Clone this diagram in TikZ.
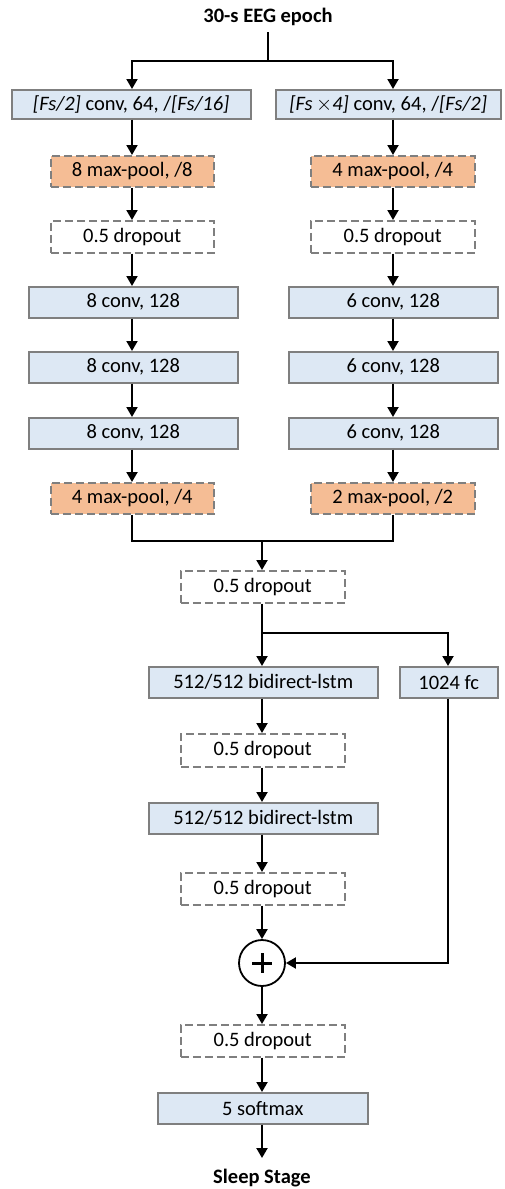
\documentclass[tikz,border=0pt]{standalone}
\usepackage{fontspec}
\setmainfont{Carlito}
\usetikzlibrary{arrows.meta}
\definecolor{layerblue}{HTML}{DDE8F4}
\definecolor{poolorange}{HTML}{F5BD95}
\definecolor{edgegray}{HTML}{7F7F7F}
\tikzset{
  box/.style={draw=edgegray, line width=1.5pt, inner sep=0pt, anchor=north west,
    font=\fontsize{20.5}{24}\selectfont},
  layer/.style={box, fill=layerblue},
  pool/.style={box, fill=poolorange, dashed, dash pattern=on 8pt off 4pt},
  drop/.style={box, fill=white, dashed, dash pattern=on 8pt off 4pt},
  label/.style={font=\fontsize{20.5}{24}\selectfont\bfseries, inner sep=0pt},
  link/.style={line width=2pt, -{Triangle[length=10pt,width=11pt]}},
  wire/.style={line width=2pt},
}
% box at (left,top) with given width and height
\newcommand{\blk}[7]{\node[#1, minimum width=#4pt, minimum height=#5pt] (#2) at (#3) {#6#7};}
\begin{document}
\begin{tikzpicture}[x=1pt,y=-1pt]
\useasboundingbox (0,0) rectangle (504,1189);

\node[label] (epoch) at (268,17) {30-s EEG epoch};

% small-filter branch
\blk{layer}{l1}{11,89}{239}{29}{\itshape [Fs/2]}{\upshape\ conv, 64, /\itshape[Fs/16]}
\blk{pool}{lp1}{50,155}{163}{31}{}{8 max-pool, /8}
\blk{drop}{ld1}{50,220}{163}{32}{}{0.5 dropout}
\blk{layer}{lc1}{28,286}{209}{31}{}{8 conv, 128}
\blk{layer}{lc2}{28,351}{209}{31}{}{8 conv, 128}
\blk{layer}{lc3}{28,417}{209}{31}{}{8 conv, 128}
\blk{pool}{lp2}{50,482}{163}{31}{}{4 max-pool, /4}

% large-filter branch
\blk{layer}{r1}{275,89}{225}{29}{\itshape [Fs\,$\times$4]}{\upshape\ conv, 64, /\itshape[Fs/2]}
\blk{pool}{rp1}{310,155}{164}{31}{}{4 max-pool, /4}
\blk{drop}{rd1}{310,220}{164}{32}{}{0.5 dropout}
\blk{layer}{rc1}{288,286}{209}{31}{}{6 conv, 128}
\blk{layer}{rc2}{288,351}{209}{31}{}{6 conv, 128}
\blk{layer}{rc3}{288,417}{209}{31}{}{6 conv, 128}
\blk{pool}{rp2}{310,482}{164}{31}{}{2 max-pool, /2}

% sequence part
\blk{drop}{d1}{180,570}{164}{32}{}{0.5 dropout}
\blk{layer}{lstm1}{148,666}{229}{31}{}{512/512 bidirect-lstm}
\blk{layer}{fc}{399,666}{98}{31}{}{1024 fc}
\blk{drop}{d2}{180,733}{164}{33}{}{0.5 dropout}
\blk{layer}{lstm2}{148,802}{229}{31}{}{512/512 bidirect-lstm}
\blk{drop}{d3}{180,872}{164}{32}{}{0.5 dropout}
\node[draw, line width=1.8pt, circle, minimum size=46pt, inner sep=0pt] (add) at (262,963) {};
\draw[line width=3pt] (add.center) ++(-10,0) -- ++(20,0) (add.center) ++(0,-10) -- ++(0,20);
\blk{drop}{d4}{180,1024}{164}{32}{}{0.5 dropout}
\blk{layer}{soft}{157,1092}{210}{31}{}{5 softmax}
\node[label] (stage) at (262,1178) {Sleep Stage};

% split of the input
\coordinate (split) at (268,61);
\draw[wire] (epoch.south) ++(0,6) -- (split);
\draw[link] (split) -| (l1.north -| 132,0);
\draw[link] (split) -| (r1.north -| 393,0);

% left column
\draw[link] (l1.south -| 132,0) -- (lp1.north -| 132,0);
\draw[link] (lp1.south -| 132,0) -- (ld1.north -| 132,0);
\draw[link] (ld1.south -| 132,0) -- (lc1.north -| 132,0);
\draw[link] (lc1.south -| 132,0) -- (lc2.north -| 132,0);
\draw[link] (lc2.south -| 132,0) -- (lc3.north -| 132,0);
\draw[link] (lc3.south -| 132,0) -- (lp2.north -| 132,0);

% right column
\draw[link] (r1.south -| 393,0) -- (rp1.north -| 393,0);
\draw[link] (rp1.south -| 393,0) -- (rd1.north -| 393,0);
\draw[link] (rd1.south -| 393,0) -- (rc1.north -| 393,0);
\draw[link] (rc1.south -| 393,0) -- (rc2.north -| 393,0);
\draw[link] (rc2.south -| 393,0) -- (rc3.north -| 393,0);
\draw[link] (rc3.south -| 393,0) -- (rp2.north -| 393,0);

% merge of the two branches
\coordinate (merge) at (262,541);
\draw[wire] (lp2.south -| 132,0) |- (merge);
\draw[wire] (rp2.south -| 393,0) |- (merge);
\draw[link] (merge) -- (d1.north -| merge);

% residual path
\coordinate (fork) at (262,633);
\draw[wire] (d1.south -| fork) -- (fork);
\draw[link] (fork) -- (lstm1.north -| fork);
\draw[link] (fork) -| (fc.north -| 448,0);
\draw[link] (lstm1.south -| fork) -- (d2.north -| fork);
\draw[link] (d2.south -| fork) -- (lstm2.north -| fork);
\draw[link] (lstm2.south -| fork) -- (d3.north -| fork);
\draw[link] (d3.south -| fork) -- (add.north);
\draw[link] (fc.south -| 448,0) |- (add.east);
\draw[link] (add.south) -- (d4.north -| fork);
\draw[link] (d4.south -| fork) -- (soft.north -| fork);
\draw[link] (soft.south -| fork) -- (262,1158);
\end{tikzpicture}
\end{document}
